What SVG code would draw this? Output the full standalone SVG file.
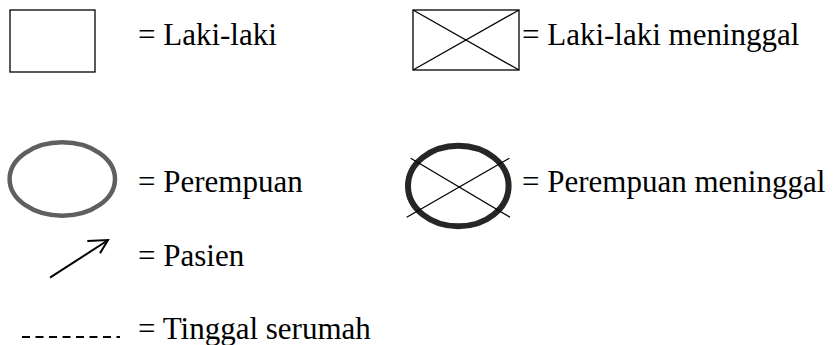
<svg xmlns="http://www.w3.org/2000/svg" width="839" height="345" viewBox="0 0 839 345">
<rect width="839" height="345" fill="#fff"/>
<g id="laki">
<rect x="10" y="10" width="85" height="62" fill="none" stroke="#000" stroke-width="1.3"/>
<text x="138" y="44.5" font-family="Liberation Serif" font-size="31">= Laki-laki</text>
</g>
<g id="laki-meninggal">
<rect x="413" y="10" width="106" height="60" fill="none" stroke="#000" stroke-width="1.3"/>
<line x1="413" y1="10" x2="519" y2="70" stroke="#000" stroke-width="1.3"/>
<line x1="413" y1="70" x2="519" y2="10" stroke="#000" stroke-width="1.3"/>
<text x="522" y="44.5" font-family="Liberation Serif" font-size="31">= Laki-laki meninggal</text>
</g>
<g id="perempuan">
<ellipse cx="62.3" cy="179" rx="52.7" ry="36.7" fill="none" stroke="#5f5f5f" stroke-width="4.5"/>
<text x="138" y="192" font-family="Liberation Serif" font-size="31">= Perempuan</text>
</g>
<g id="perempuan-meninggal">
<ellipse cx="458.3" cy="186" rx="50.3" ry="40.3" fill="none" stroke="#262626" stroke-width="6"/>
<line x1="410.7" y1="158.3" x2="510" y2="217.3" stroke="#000" stroke-width="1.3"/>
<line x1="406.7" y1="217.3" x2="509.3" y2="158.3" stroke="#000" stroke-width="1.3"/>
<text x="522" y="192" font-family="Liberation Serif" font-size="31">= Perempuan meninggal</text>
</g>
<g id="pasien">
<line x1="50" y1="277.7" x2="107.5" y2="240.5" stroke="#000" stroke-width="2"/>
<polyline points="87.3,241 108,240 100,253.3" fill="none" stroke="#000" stroke-width="2"/>
<text x="138" y="266" font-family="Liberation Serif" font-size="31">= Pasien</text>
</g>
<g id="serumah">
<line x1="22" y1="337" x2="120" y2="337" stroke="#000" stroke-width="2" stroke-dasharray="8 5.5"/>
<text x="138" y="338.5" font-family="Liberation Serif" font-size="31">= Tinggal serumah</text>
</g>
</svg>
